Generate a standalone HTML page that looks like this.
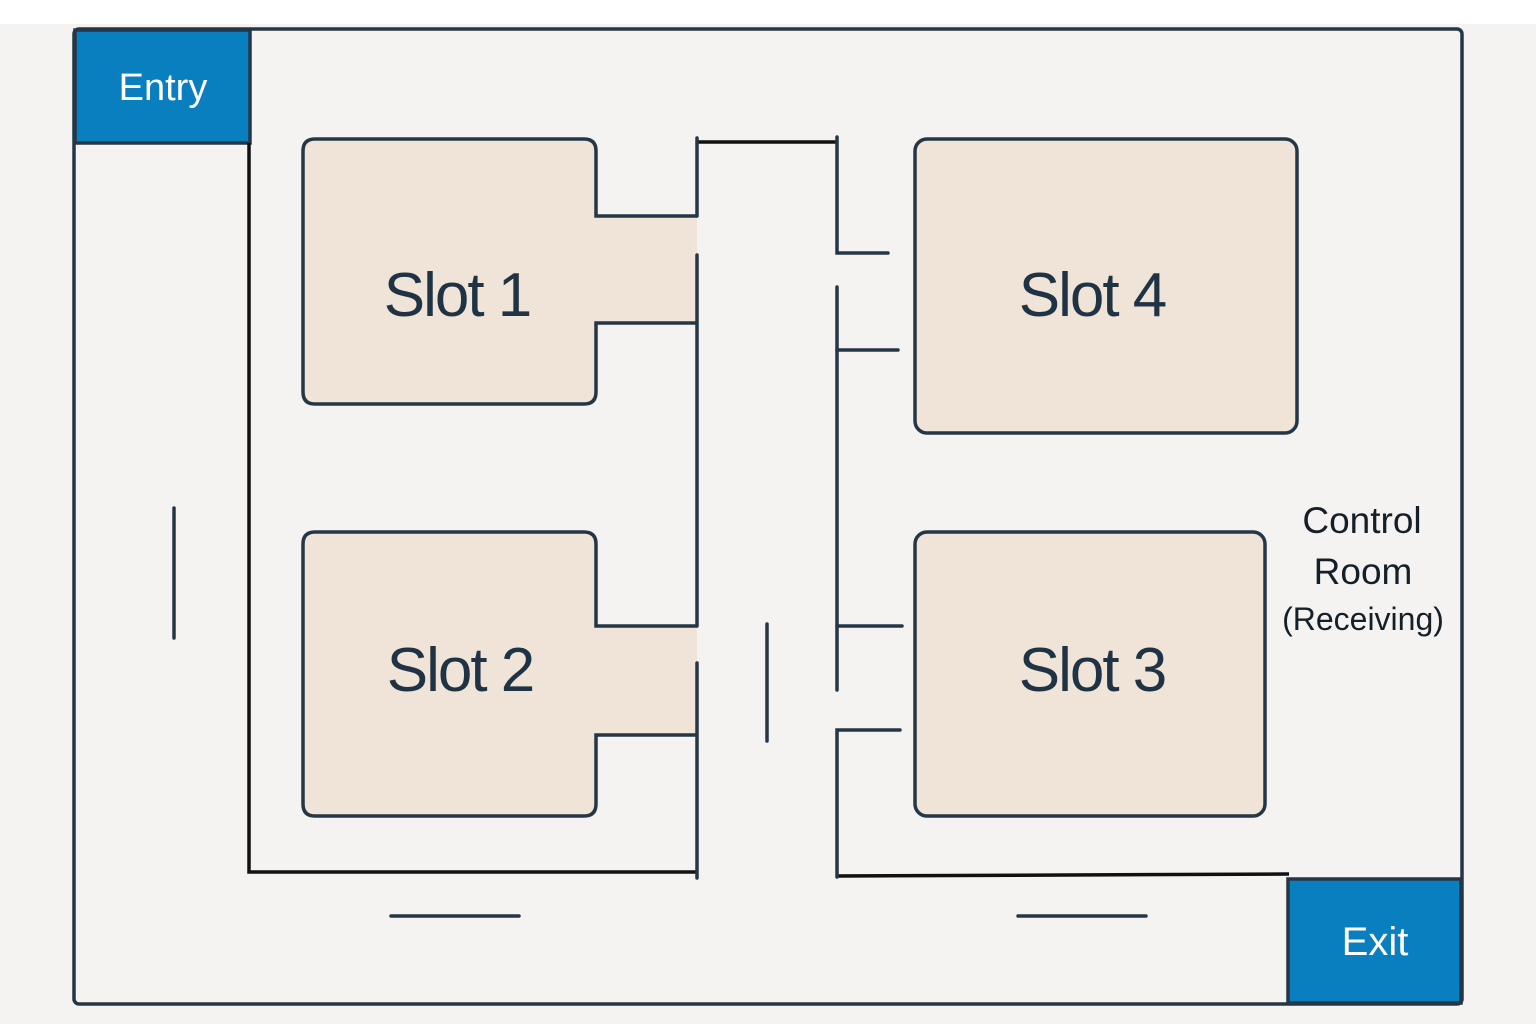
<!DOCTYPE html>
<html><head><meta charset="utf-8"><style>
html,body{margin:0;padding:0;background:#f4f3f2;}
svg{display:block;}
text{font-family:"Liberation Sans","DejaVu Sans",sans-serif;}
</style></head><body>
<svg width="1536" height="1024" viewBox="0 0 1536 1024">
<rect x="0" y="0" width="1536" height="24" fill="#ffffff"/>
<rect x="74" y="29" width="1388" height="975" rx="5" fill="#f4f3f2" stroke="#253746" stroke-width="3.5"/>
<g>
<rect x="75" y="30" width="175" height="113" fill="#0a7fc0" stroke="#253746" stroke-width="3.5"/>
<text x="163" y="100" font-size="38" fill="#ffffff" text-anchor="middle">Entry</text>
</g>
<g>
<rect x="1288" y="879" width="173" height="124" fill="#0a7fc0" stroke="#253746" stroke-width="3.5"/>
<text x="1375" y="955" font-size="40" fill="#ffffff" text-anchor="middle">Exit</text>
</g>
<g fill="none" stroke="#111" stroke-width="3.5">
<polyline points="249,143 249,872 697,872"/>
<line x1="697" y1="142" x2="837" y2="142"/>
<line x1="837" y1="876" x2="1289" y2="874"/>
</g>
<g>
<path d="M315,139 H584 Q596,139 596,151 V216 H697 V323 H596 V392 Q596,404 584,404 H315 Q303,404 303,392 V151 Q303,139 315,139 Z" fill="#efe4d7"/>
<path d="M697,216 H596 V151 Q596,139 584,139 H315 Q303,139 303,151 V392 Q303,404 315,404 H584 Q596,404 596,392 V323 H697" fill="none" stroke="#253746" stroke-width="3.5"/>
<text x="457" y="316" font-size="62" letter-spacing="-2" fill="#1f3344" text-anchor="middle">Slot 1</text>
</g>
<g>
<path d="M315,532 H584 Q596,532 596,544 V626 H697 V735 H596 V804 Q596,816 584,816 H315 Q303,816 303,804 V544 Q303,532 315,532 Z" fill="#efe4d7"/>
<path d="M697,626 H596 V544 Q596,532 584,532 H315 Q303,532 303,544 V804 Q303,816 315,816 H584 Q596,816 596,804 V735 H697" fill="none" stroke="#253746" stroke-width="3.5"/>
<text x="460" y="691" font-size="62" letter-spacing="-2" fill="#1f3344" text-anchor="middle">Slot 2</text>
</g>
<g>
<rect x="915" y="139" width="382" height="294" rx="12" fill="#efe4d7" stroke="#253746" stroke-width="3.5"/>
<text x="1092" y="316" font-size="62" letter-spacing="-2" fill="#1f3344" text-anchor="middle">Slot 4</text>
</g>
<g>
<rect x="915" y="532" width="350" height="284" rx="12" fill="#efe4d7" stroke="#253746" stroke-width="3.5"/>
<text x="1092" y="691" font-size="62" letter-spacing="-2" fill="#1f3344" text-anchor="middle">Slot 3</text>
</g>
<g fill="none" stroke="#253746" stroke-width="3.5" stroke-linecap="round">
<line x1="697" y1="138" x2="697" y2="216"/>
<line x1="697" y1="255" x2="697" y2="626"/>
<line x1="697" y1="663" x2="697" y2="878"/>
<polyline points="837,137 837,253 888,253"/>
<line x1="837" y1="287" x2="837" y2="690"/>
<line x1="837" y1="350" x2="898" y2="350"/>
<line x1="837" y1="626" x2="902" y2="626"/>
<polyline points="837,877 837,730 900,730"/>
<line x1="174" y1="508" x2="174" y2="638"/>
<line x1="767" y1="624" x2="767" y2="741"/>
<line x1="391" y1="916" x2="519" y2="916"/>
<line x1="1018" y1="916" x2="1146" y2="916"/>
</g>
<g fill="#151f28" text-anchor="middle">
<text x="1362" y="533" font-size="37">Control</text>
<text x="1363" y="584" font-size="37">Room</text>
<text x="1363" y="630" font-size="32">(Receiving)</text>
</g>
</svg>
</body></html>
